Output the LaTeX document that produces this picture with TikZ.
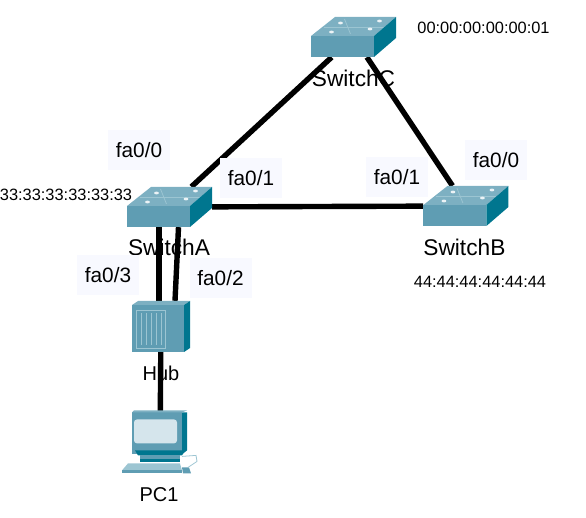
\documentclass[tikz,border=0pt]{standalone}
\usepackage{fontspec}
\setmainfont{Liberation Sans}
\usepackage{xcolor}
\usetikzlibrary{positioning, calc}

\definecolor{devfront}{HTML}{5F9DB3}
\definecolor{devtop}{HTML}{7DB0C2}
\definecolor{devlight}{HTML}{9CC5D2}
\definecolor{devside}{HTML}{00768F}
\definecolor{devscreen}{HTML}{D5E5EC}
\definecolor{portbg}{HTML}{F8F9FF}

\tikzset{
    switchicon/.pic = {
        \fill[devtop]   (-42.5,-1) -- (-18.5,-20) -- (42.5,-20) -- (20.5,-1) -- cycle;
        \draw[devlight, line width=0.8pt] (-30,-10) -- (31,-10);
        \draw[devlight, line width=0.8pt] (-9,-18) -- (-3,-3);
        \fill[devfront] (-42.5,-1) rectangle (20.5,20);
        \fill[devside]  (20.5,-1) -- (42.5,-20) -- (42.5,1) -- (20.5,20) -- cycle;
        \foreach \px/\py in {-13/-14, 26/-16, -22/-5, 16.5/-8}
            \fill[white!85!devtop] (\px,\py) ellipse (2.4 and 1.4);
    },
    hubicon/.pic = {
        \fill[devtop]   (-29,-21.5) -- (-23,-25.5) -- (29,-25.5) -- (23,-21.5) -- cycle;
        \fill[devfront] (-29,-21.5) rectangle (23,25.5);
        \fill[devside]  (23,-21.5) -- (29,-25.5) -- (29,21.5) -- (23,25.5) -- cycle;
        \draw[devlight, line width=1pt] (-25,-15.5) rectangle (4,22);
        \foreach \px in {-20,-15,-10,-5,0}
            \draw[devlight, line width=1pt] (\px,-13) -- (\px,19);
    },
    pcicon/.pic = {
        \fill[devside]  (22,-34) -- (27,-34) -- (27,4) -- (22,8) -- cycle;
        \fill[devfront] (-28,-34) rectangle (22,8);
        \fill[devtop]   (-28,-34) -- (-26,-36) -- (27,-36) -- (22,-34) -- cycle;
        \fill[devscreen, rounded corners=3pt] (-26,-27) rectangle (17,-3);
        \fill[devside]  (-25,4) -- (25,4) -- (22,9) -- (-22,9) -- cycle;
        \fill[devfront] (-20,9) rectangle (20,16);
        \fill[devside]  (-20,13) rectangle (20,16);
        \fill[devlight] (-32,17) -- (20,17) -- (22,24) -- (-38,24) -- cycle;
        \fill[devfront] (-38,24) rectangle (22,27);
        \fill[devfront] (22,21) -- (29,21) -- (31,27) -- (23,27) -- cycle;
        \draw[devlight, line width=0.8pt] (22,10) -- (36,9) -- (37,15) -- (28,21);
    },
}

\begin{document}
\begin{tikzpicture}[
    x=1pt, y=-1pt,
    node distance = 12pt,
    every node/.style = {align=center, inner sep=0pt},
    device/.style   = {minimum width=85pt, minimum height=40pt},
    hubnode/.style  = {minimum width=58pt, minimum height=51pt},
    pcnode/.style   = {minimum width=76pt, minimum height=68pt},
    devlabel/.style = {font=\fontsize{22.7}{22.7}\selectfont},
    smlabel/.style  = {font=\fontsize{20}{20}\selectfont},
    maclabel/.style = {font=\fontsize{16.4}{16.4}\selectfont},
    portlabel/.style = {fill=portbg, minimum width=62pt, minimum height=40pt,
                       font=\fontsize{20.8}{20.8}\selectfont},
    link/.style     = {line width=5.4pt, draw=black},
]
\useasboundingbox (0,0) rectangle (586,518);

%% Devices
\node[device]  (swA) at (169.5,207) {};
\node[device, right=211pt of swA, yshift=1pt] (swB) {};
\node[device]  (swC) at (353.5,37) {};
\node[hubnode] (hub) at (161,326.5) {};
\node[pcnode, below=60pt of hub, xshift=-1pt] (pc) {};

%% Links
\draw[link] (swA) -- (swB);
\draw[link] (swA) -- (swC);
\draw[link] (swB) -- (swC);
\draw[link] ($(swA.south)+(-10.5,0)$) -- ($(hub.north)+(-2,0)$);
\draw[link] ($(swA.south)+(9,0)$) -- ($(hub.north)+(14,0)$);
\draw[link] (hub) -- (pc);

%% Icons on top of the links
\pic at (swA) {switchicon};
\pic at (swB) {switchicon};
\pic at (swC) {switchicon};
\pic at (hub) {hubicon};
\pic at (pc)  {pcicon};

%% Device names
\node[devlabel, below=12pt of swA, xshift=-0.5pt] (nameA) {SwitchA};
\node[devlabel, below=13pt of swB, xshift=-1.5pt] (nameB) {SwitchB};
\node[devlabel, below=13pt of swC] (nameC) {SwitchC};
\node[smlabel,  below=14pt of hub] (nameH) {Hub};
\node[smlabel,  below=7pt of pc, xshift=-1pt] (nameP) {PC1};

%% MAC addresses
\node[maclabel] (macC) at (483.5,28)  {00:00:00:00:00:01};
\node[maclabel] (macA) at (66,195)    {33:33:33:33:33:33};
\node[maclabel] (macB) at (480,282)   {44:44:44:44:44:44};

%% Port labels
\node[portlabel] (pA0) at (139,150)   {fa0/0};
\node[portlabel] (pA1) at (251,178)   {fa0/1};
\node[portlabel] (pA3) at (108,275)   {fa0/3};
\node[portlabel] (pA2) at (220.5,278) {fa0/2};
\node[portlabel] (pB1) at (397,177)   {fa0/1};
\node[portlabel] (pB0) at (496,160)   {fa0/0};

\end{tikzpicture}
\end{document}
